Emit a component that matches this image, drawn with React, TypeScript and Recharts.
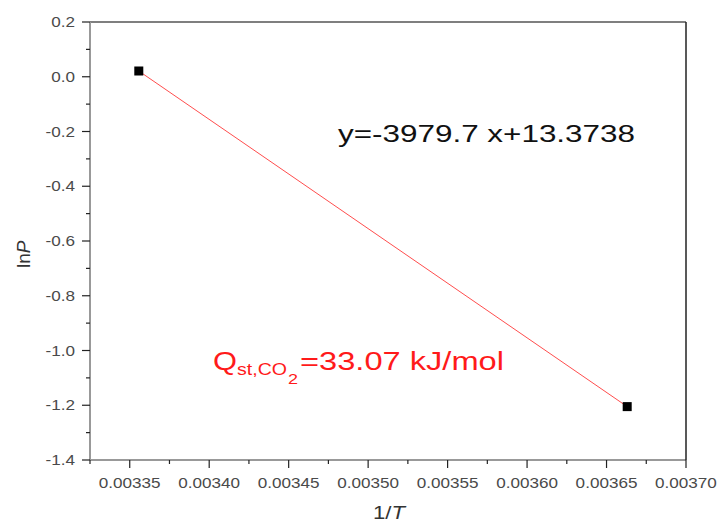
import React from 'react';
import { ComposedChart, XAxis, YAxis, Line } from 'recharts';

const invT = [0.0033557, 0.003663];
const lnP = [0.021, -1.205];

const xTicks = [0.003325, 0.00335, 0.003375, 0.0034, 0.003425, 0.00345, 0.003475, 0.0035, 0.003525, 0.00355, 0.003575, 0.0036, 0.003625, 0.00365, 0.003675, 0.0037];
const xMajor = [0.00335, 0.0034, 0.00345, 0.0035, 0.00355, 0.0036, 0.00365, 0.0037];
const yTicks = [-1.4, -1.3, -1.2, -1.1, -1.0, -0.9, -0.8, -0.7, -0.6, -0.5, -0.4, -0.3, -0.2, -0.1, 0.0, 0.1, 0.2];
const yMajor = [-1.4, -1.2, -1.0, -0.8, -0.6, -0.4, -0.2, 0.0, 0.2];

const equationText = 'y=-3979.7 x+13.3738';
const qText = '=33.07 kJ/mol';

const data = invT.map((x, i) => ({ x, y: lnP[i] }));

const FONT = '"Liberation Sans", Arial, sans-serif';
const STRETCH = 1.14;
const TICK_FS = 15;

const charW = (c: string) => (c === '.' ? 0.278 : c === '-' ? 0.333 : 0.556);
const natural = (s: string, fs: number) => s.split('').reduce((a, c) => a + charW(c), 0) * fs;

const near = (arr: number[], v: number) => arr.some((m) => Math.abs(m - v) < 1e-9);

const XTick = (props: any) => {
  const { x, y, payload } = props;
  const v = payload.value as number;
  const major = near(xMajor, v);
  const label = v.toFixed(5);
  return (
    <g>
      <line x1={x} x2={x} y1={y} y2={y + (major ? 8 : 4)} stroke="#222" strokeWidth={1.2} />
      {major && (
        <text
          x={x}
          y={y + 28}
          textAnchor="middle"
          fontSize={TICK_FS}
          fontFamily={FONT}
          fill="#4a4a4a"
          textLength={natural(label, TICK_FS) * STRETCH}
          lengthAdjust="spacingAndGlyphs"
        >
          {label}
        </text>
      )}
    </g>
  );
};

const YTick = (props: any) => {
  const { x, y, payload } = props;
  const v = payload.value as number;
  const major = near(yMajor, v);
  const label = (Math.abs(v) < 1e-9 ? 0 : v).toFixed(1);
  return (
    <g>
      <line x1={x - (major ? 8 : 4)} x2={x} y1={y} y2={y} stroke="#222" strokeWidth={1.2} />
      {major && (
        <text
          x={x - 15}
          y={y + 5}
          textAnchor="end"
          fontSize={TICK_FS}
          fontFamily={FONT}
          fill="#4a4a4a"
          textLength={natural(label, TICK_FS) * STRETCH}
          lengthAdjust="spacingAndGlyphs"
        >
          {label}
        </text>
      )}
    </g>
  );
};

const SquareDot = (props: any) => {
  const { cx, cy } = props;
  if (cx == null || cy == null) return null;
  return <rect x={cx - 4.5} y={cy - 4.5} width={9} height={9} fill="#000" />;
};

export default function App() {
  return (
    <div style={{ position: 'absolute', left: 0, top: 0, width: 720, height: 525, background: '#fff' }}>
      <ComposedChart
        width={720}
        height={525}
        data={data}
        margin={{ top: 12, right: 24, bottom: 35, left: 50 }}
      >
        <XAxis
          dataKey="x"
          type="number"
          domain={[0.003325, 0.0037]}
          ticks={xTicks}
          interval={0}
          height={30}
          tickSize={0}
          tickMargin={0}
          tickLine={false}
          tick={<XTick />}
          axisLine={{ stroke: '#999', strokeWidth: 2 }}
          allowDataOverflow
        />
        <XAxis
          xAxisId="top"
          orientation="top"
          type="number"
          domain={[0.003325, 0.0037]}
          height={10}
          tick={false}
          tickLine={false}
          axisLine={{ stroke: '#555', strokeWidth: 1.5 }}
        />
        <YAxis
          type="number"
          domain={[-1.4, 0.2]}
          ticks={yTicks}
          interval={0}
          width={40}
          tickSize={0}
          tickMargin={0}
          tickLine={false}
          tick={<YTick />}
          axisLine={{ stroke: '#999', strokeWidth: 2 }}
          allowDataOverflow
        />
        <YAxis
          yAxisId="right"
          orientation="right"
          type="number"
          domain={[-1.4, 0.2]}
          width={10}
          tick={false}
          tickLine={false}
          axisLine={{ stroke: '#222', strokeWidth: 1.5 }}
        />
        <Line
          dataKey="y"
          stroke="#ff2020"
          strokeWidth={0.8}
          dot={<SquareDot />}
          activeDot={false}
          isAnimationActive={false}
        />
      </ComposedChart>
      <svg
        width={720}
        height={525}
        style={{ position: 'absolute', left: 0, top: 0, pointerEvents: 'none' }}
      >
        <text x={338} y={142} fontSize={23} fontFamily={FONT} fill="#111" textLength={297} lengthAdjust="spacingAndGlyphs">
          {equationText}
        </text>
        <text x={213} y={370} fontSize={25.5} fontFamily={FONT} fill="#ff1a1a" textLength={24} lengthAdjust="spacingAndGlyphs">Q</text>
        <text x={237} y={375} fontSize={16} fontFamily={FONT} fill="#ff1a1a" textLength={50} lengthAdjust="spacingAndGlyphs">st,CO</text>
        <text x={288} y={384} fontSize={15} fontFamily={FONT} fill="#ff1a1a" textLength={10} lengthAdjust="spacingAndGlyphs">2</text>
        <text x={300} y={370} fontSize={25.5} fontFamily={FONT} fill="#ff1a1a" textLength={204} lengthAdjust="spacingAndGlyphs">
          {qText}
        </text>
        <text x={373} y={519} fontSize={19} fontFamily={FONT} fill="#333" textLength={32} lengthAdjust="spacingAndGlyphs">
          1/<tspan fontStyle="italic">T</tspan>
        </text>
        <text x={30} y={268} fontSize={19} fontFamily={FONT} fill="#333" transform="rotate(-90 30 268)">
          ln<tspan fontStyle="italic">P</tspan>
        </text>
      </svg>
    </div>
  );
}
